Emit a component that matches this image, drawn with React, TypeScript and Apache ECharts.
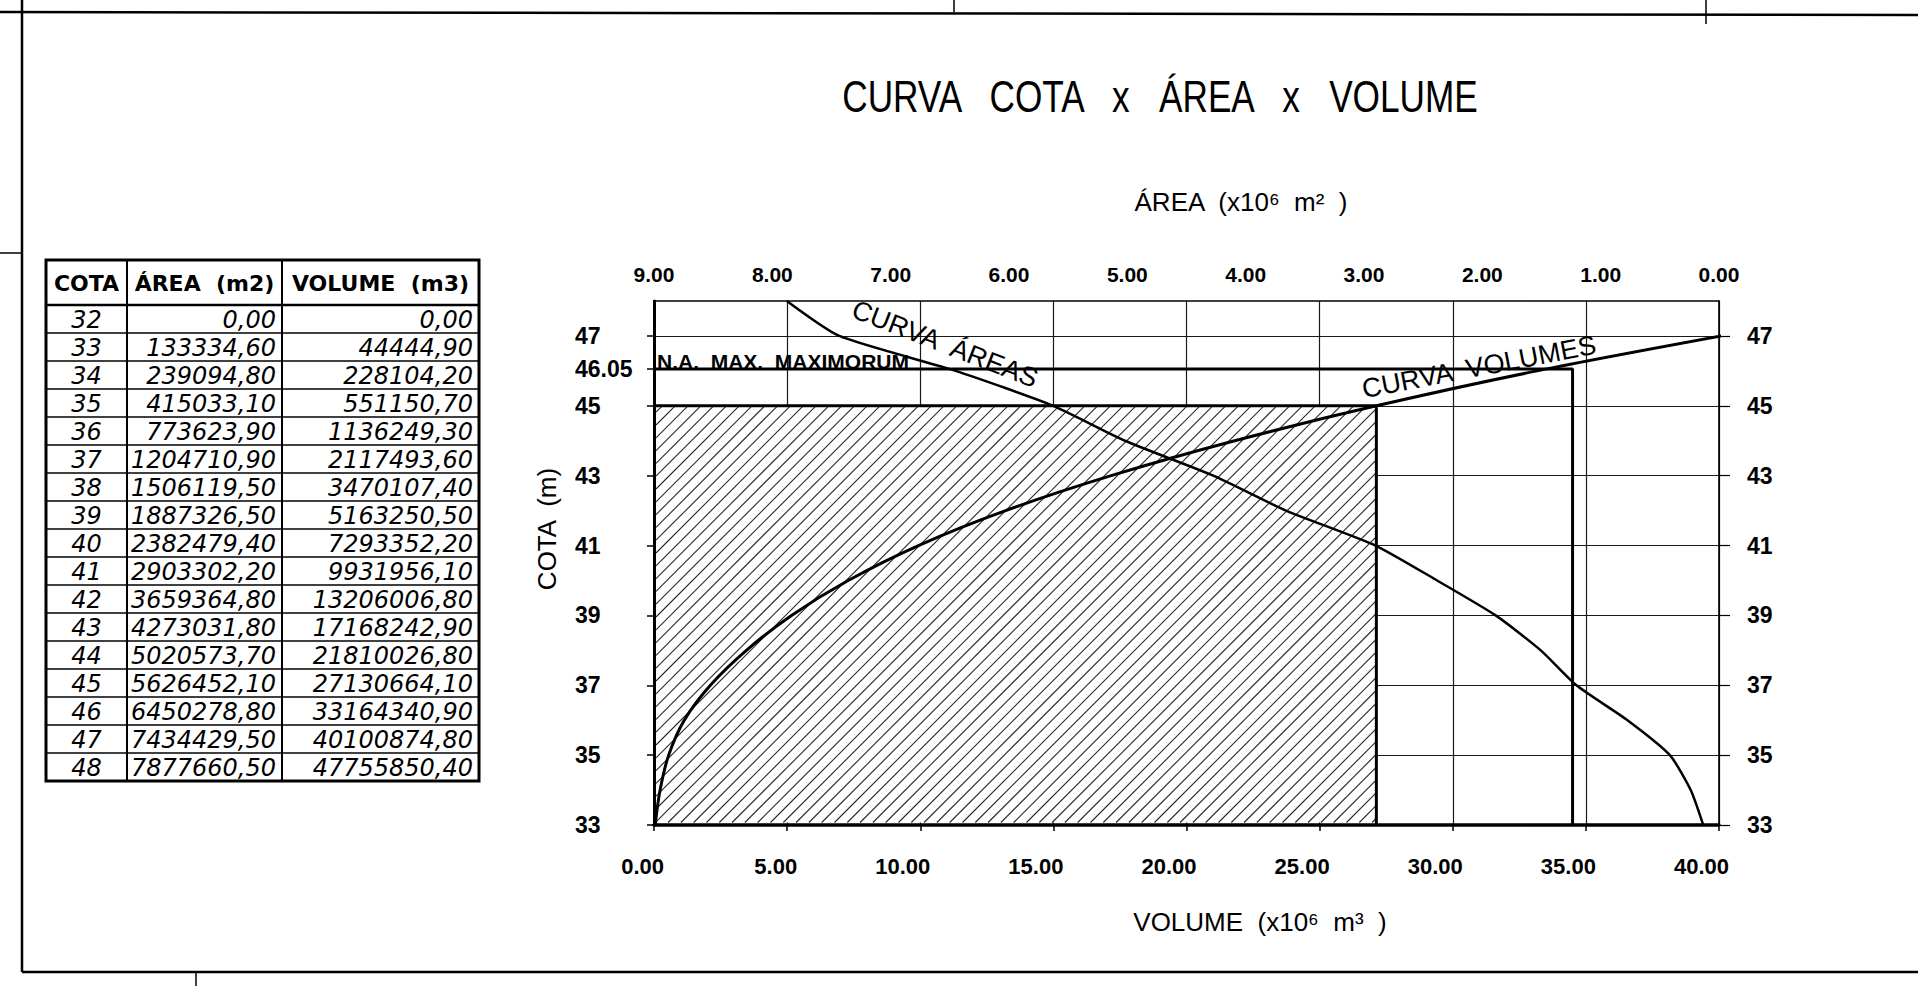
import React, { useEffect, useRef } from 'react';
import * as echarts from 'echarts';

// ---------------- Data (table of the drawing) ----------------
const COTA = [32, 33, 34, 35, 36, 37, 38, 39, 40, 41, 42, 43, 44, 45, 46, 47, 48];
const AREA_M2 = [
  0.0, 133334.6, 239094.8, 415033.1, 773623.9, 1204710.9, 1506119.5, 1887326.5,
  2382479.4, 2903302.2, 3659364.8, 4273031.8, 5020573.7, 5626452.1, 6450278.8,
  7434429.5, 7877660.5,
];
const VOLUME_M3 = [
  0.0, 44444.9, 228104.2, 551150.7, 1136249.3, 2117493.6, 3470107.4, 5163250.5,
  7293352.2, 9931956.1, 13206006.8, 17168242.9, 21810026.8, 27130664.1, 33164340.9,
  40100874.8, 47755850.4,
];
const TABLE_HEADERS = ['COTA', 'ÁREA  (m2)', 'VOLUME  (m3)'];

// ---------------- Axes / ticks ----------------
const VOLUME_TICKS = [0, 5, 10, 15, 20, 25, 30, 35, 40]; // x10^6 m3 (bottom)
const AREA_TICKS = [0, 1, 2, 3, 4, 5, 6, 7, 8, 9]; // x10^6 m2 (top, reversed)
const COTA_RANGE = [33, 48];
const COTA_TICKS_LEFT = [33, 35, 37, 39, 41, 43, 45, 46.05, 47];
const COTA_TICKS_RIGHT = [33, 35, 37, 39, 41, 43, 45, 47];

// ---------------- Reference levels ----------------
const NA_MAX_LEVEL = 46.05; // N.A. max. maximorum
const NA_MAX_VOLUME = 34.5; // x10^6 m3, where the N.A. line drops
const HATCH_LEVEL = 45; // hatched storage up to cota 45

const MILLION = 1e6;
const FONT = 'Liberation Sans';

const volumePoints = COTA.map((c, i) => [VOLUME_M3[i] / MILLION, c]).filter(
  (p) => p[1] >= COTA_RANGE[0] && p[1] <= 47
);
const areaPoints = COTA.map((c, i) => [AREA_M2[i] / MILLION, c]).filter(
  (p) => p[1] >= COTA_RANGE[0]
);
const hatchVolume = VOLUME_M3[COTA.indexOf(HATCH_LEVEL)] / MILLION;

const fmtBR = (n: number) => n.toFixed(2).replace('.', ',');

const tickLabel = { color: '#000', fontFamily: FONT, fontWeight: 'bold' as const };

function txt(text: string, x: number, y: number, o: any = {}) {
  const align = o.align || 'center';
  const vAlign = o.vAlign || 'middle';
  return {
    type: 'text',
    x,
    y,
    rotation: o.rotation || 0,
    scaleX: o.scaleX || 1,
    scaleY: o.scaleY || 1,
    silent: true,
    z: 10,
    style: {
      text,
      fill: '#000',
      fontFamily: o.fontFamily || FONT,
      fontSize: o.fontSize || 20,
      fontWeight: o.fontWeight || 'normal',
      fontStyle: o.fontStyle || 'normal',
      align,
      verticalAlign: vAlign,
      textAlign: align,
      textVerticalAlign: vAlign,
    },
  };
}

function ln(x1: number, y1: number, x2: number, y2: number, w: number) {
  return {
    type: 'line',
    silent: true,
    z: 10,
    shape: { x1, y1, x2, y2 },
    style: { stroke: '#000', lineWidth: w },
  };
}

function buildTable() {
  const cols = [46, 127, 282, 479];
  const top = 260;
  const headH = 45;
  const rowH = 28;
  const bottom = top + headH + COTA.length * rowH;
  const els: any[] = [];
  els.push({
    type: 'rect',
    silent: true,
    z: 9,
    shape: { x: cols[0], y: top, width: cols[3] - cols[0], height: bottom - top },
    style: { fill: '#fff', stroke: '#000', lineWidth: 3 },
  });
  els.push(ln(cols[0], top + headH, cols[3], top + headH, 2.5));
  els.push(ln(cols[1], top, cols[1], bottom, 2));
  els.push(ln(cols[2], top, cols[2], bottom, 2));
  for (let i = 1; i < COTA.length; i++) {
    const y = top + headH + i * rowH;
    els.push(ln(cols[0], y, cols[3], y, 1.4));
  }
  const hy = top + headH / 2 + 1;
  TABLE_HEADERS.forEach((h, i) => {
    els.push(
      txt(h, (cols[i] + cols[i + 1]) / 2, hy, {
        fontFamily: 'DejaVu Sans',
        fontWeight: 'bold',
        fontSize: 22,
      })
    );
  });
  COTA.forEach((c, i) => {
    const y = top + headH + i * rowH + 15;
    const base = { fontFamily: 'DejaVu Sans', fontStyle: 'italic', fontSize: 24 };
    els.push(txt(String(c), (cols[0] + cols[1]) / 2, y, base));
    els.push(txt(fmtBR(AREA_M2[i]), cols[2] - 6, y, { ...base, align: 'right' }));
    els.push(txt(fmtBR(VOLUME_M3[i]), cols[3] - 6, y, { ...base, align: 'right' }));
  });
  return els;
}

function buildGraphic(naPx: number[]) {
  const els: any[] = [];
  // drawing frame
  els.push(ln(0, 12, 1918, 15, 2.5));
  els.push(ln(22, 0, 22, 972, 2.5));
  els.push(ln(22, 972, 1918, 972, 2.5));
  els.push(ln(954, 0, 954, 12, 1.5));
  els.push(ln(1706, 0, 1706, 24, 1.5));
  els.push(ln(0, 253, 22, 253, 1.5));
  els.push(ln(196, 972, 196, 986, 1.5));
  // title & axis names
  els.push(txt('CURVA   COTA   x   ÁREA   x   VOLUME', 1160, 97, { fontSize: 44, scaleX: 0.8 }));
  els.push(txt('ÁREA  (x10⁶  m²  )', 1241, 202, { fontSize: 26 }));
  els.push(txt('VOLUME  (x10⁶  m³  )', 1260, 922, { fontSize: 26 }));
  els.push(txt('COTA  (m)', 547, 529, { fontSize: 26, rotation: Math.PI / 2 }));
  // annotations
  els.push(
    txt('N.A.  MAX.  MAXIMORUM', naPx[0] + 3, naPx[1] + 3, {
      fontSize: 21,
      fontWeight: 'bold',
      align: 'left',
      vAlign: 'bottom',
    })
  );
  els.push(txt('CURVA  ÁREAS', 945, 344, { fontSize: 27, rotation: -0.37 }));
  els.push(txt('CURVA  VOLUMES', 1479, 367, { fontSize: 27, rotation: 0.19 }));
  return els.concat(buildTable());
}

const option: any = {
  animation: false,
  backgroundColor: '#fff',
  grid: { left: 654, top: 301, width: 1065, height: 524, containLabel: false },
  xAxis: [
    {
      type: 'value',
      position: 'bottom',
      min: VOLUME_TICKS[0],
      max: VOLUME_TICKS[VOLUME_TICKS.length - 1],
      interval: VOLUME_TICKS[1] - VOLUME_TICKS[0],
      axisLine: { show: true, onZero: false, lineStyle: { color: '#000', width: 3.5 } },
      axisTick: { show: true, inside: false, length: 6, lineStyle: { color: '#000', width: 1.5 } },
      axisLabel: {
        ...tickLabel,
        fontSize: 22,
        margin: 30,
        align: 'right',
        padding: [0, -10, 0, 0],
        formatter: (v: number) => v.toFixed(2),
      },
      splitLine: { show: true, lineStyle: { color: '#1a1a1a', width: 1.2 } },
    },
    {
      type: 'value',
      position: 'top',
      inverse: true,
      min: AREA_TICKS[0],
      max: AREA_TICKS[AREA_TICKS.length - 1],
      interval: AREA_TICKS[1] - AREA_TICKS[0],
      axisLine: { show: true, onZero: false, lineStyle: { color: '#000', width: 1.6 } },
      axisTick: { show: false },
      axisLabel: { ...tickLabel, fontSize: 21, margin: 16, formatter: (v: number) => v.toFixed(2) },
      splitLine: { show: false },
    },
  ],
  yAxis: [
    {
      type: 'value',
      position: 'left',
      min: COTA_RANGE[0],
      max: COTA_RANGE[1],
      axisLine: { show: true, onZero: false, lineStyle: { color: '#000', width: 3 } },
      axisTick: {
        show: true,
        customValues: COTA_TICKS_LEFT,
        length: 7,
        lineStyle: { color: '#000', width: 1.5 },
      },
      axisLabel: {
        ...tickLabel,
        fontSize: 23,
        customValues: COTA_TICKS_LEFT,
        align: 'left',
        margin: 79,
        formatter: (v: number) => (Number.isInteger(v) ? String(v) : v.toFixed(2)),
      },
      splitLine: { show: false },
    },
    {
      type: 'value',
      position: 'right',
      min: COTA_RANGE[0],
      max: COTA_RANGE[1],
      axisLine: { show: true, onZero: false, lineStyle: { color: '#000', width: 1.6 } },
      axisTick: {
        show: true,
        customValues: COTA_TICKS_RIGHT,
        length: 11,
        lineStyle: { color: '#000', width: 1.2 },
      },
      axisLabel: {
        ...tickLabel,
        fontSize: 23,
        customValues: COTA_TICKS_RIGHT,
        margin: 28,
        formatter: (v: number) => String(v),
      },
      splitLine: { show: true, lineStyle: { color: '#1a1a1a', width: 1.2 } },
    },
  ],
  series: [
    {
      type: 'custom',
      name: 'hatch',
      xAxisIndex: 0,
      yAxisIndex: 0,
      z: 1,
      silent: true,
      clip: false,
      data: [[hatchVolume, HATCH_LEVEL]],
      renderItem: (params: any, api: any) => {
        const tr = api.coord([api.value(0), api.value(1)]);
        const bl = api.coord([0, COTA_RANGE[0]]);
        const xl = bl[0] + 2;
        const yb = bl[1] - 2.5;
        const xr = tr[0];
        const yt = tr[1];
        const children: any[] = [
          {
            type: 'rect',
            shape: { x: xl, y: yt, width: xr - xl, height: yb - yt },
            style: { fill: '#fff' },
          },
        ];
        const step = 12.8;
        for (let c = xl + yt + step / 2; c < xr + yb; c += step) {
          const x1 = Math.max(xl, c - yb);
          const x2 = Math.min(xr, c - yt);
          if (x2 > x1) {
            children.push({
              type: 'line',
              shape: { x1, y1: c - x1, x2, y2: c - x2 },
              style: { stroke: '#2a2a2a', lineWidth: 1.1 },
            });
          }
        }
        children.push({
          type: 'polyline',
          shape: { points: [[bl[0], yt], [xr, yt], [xr, bl[1]]] },
          style: { stroke: '#000', lineWidth: 3, fill: 'none' },
        });
        return { type: 'group', children };
      },
    },
    {
      type: 'line',
      name: 'N.A. MAX. MAXIMORUM',
      xAxisIndex: 0,
      yAxisIndex: 0,
      z: 3,
      symbol: 'none',
      data: [
        [0, NA_MAX_LEVEL],
        [NA_MAX_VOLUME, NA_MAX_LEVEL],
        [NA_MAX_VOLUME, COTA_RANGE[0]],
      ],
      lineStyle: { color: '#000', width: 3 },
    },
    {
      type: 'line',
      name: 'CURVA VOLUMES',
      xAxisIndex: 0,
      yAxisIndex: 0,
      z: 4,
      symbol: 'none',
      smooth: 0.3,
      data: volumePoints,
      lineStyle: { color: '#000', width: 3 },
    },
    {
      type: 'line',
      name: 'CURVA ÁREAS',
      xAxisIndex: 1,
      yAxisIndex: 0,
      z: 4,
      symbol: 'none',
      smooth: 0.2,
      data: areaPoints,
      lineStyle: { color: '#000', width: 2.5 },
    },
  ],
};

export default function App() {
  const ref = useRef<HTMLDivElement>(null);
  useEffect(() => {
    if (!ref.current) return;
    const chart = echarts.init(ref.current, null, { renderer: 'svg' });
    chart.setOption(option);
    const naPx = chart.convertToPixel({ seriesIndex: 1 }, [0, NA_MAX_LEVEL]) as number[];
    chart.setOption({ graphic: { elements: buildGraphic(naPx) } });
    return () => {
      chart.dispose();
    };
  }, []);
  return (
    <div
      ref={ref}
      style={{ position: 'fixed', left: 0, top: 0, width: 1918, height: 986, background: '#fff' }}
    />
  );
}
